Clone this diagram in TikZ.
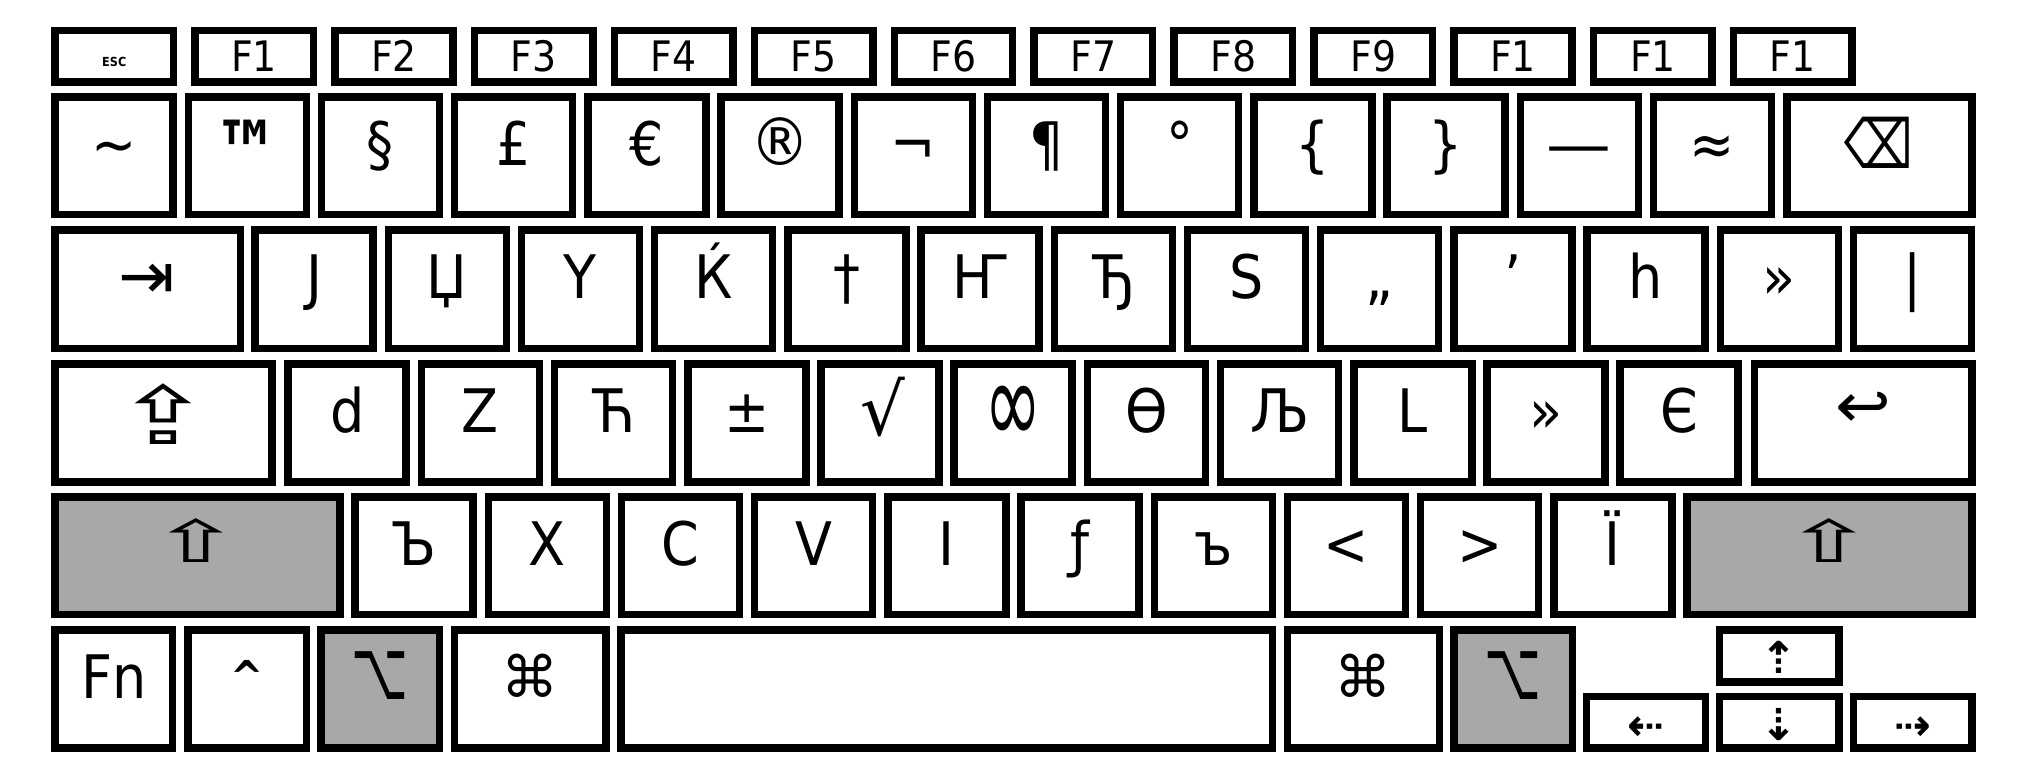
\documentclass[tikz,border=0pt]{standalone}
\usepackage{fontspec}
\usepackage{graphicx}
\setmainfont{DejaVu Sans Condensed}
\newfontfamily\symf{DejaVu Sans}
\definecolor{keygray}{RGB}{168,168,168}
\tikzset{
  keybox/.style={draw=black, fill=white, line width=7.5pt, rectangle, inner sep=0pt, outer sep=0pt},
  graykey/.style={keybox, fill=keygray},
  glyph/.style={inner sep=0pt, outer sep=0pt, anchor=base, font=\fontsize{60}{60}\selectfont},
  cglyph/.style={inner sep=0pt, outer sep=0pt, anchor=center, font=\fontsize{60}{60}\selectfont},
  fglyph/.style={glyph, font=\fontsize{42}{42}\selectfont},
  escglyph/.style={inner sep=0pt, anchor=center, font=\fontsize{12.5}{12.5}\selectfont\bfseries},
  icon/.style={inner sep=0pt, outer sep=0pt, anchor=center, font=\symf\fontsize{52}{52}\selectfont},
  arrowglyph/.style={icon, font=\symf\bfseries\fontsize{44}{44}\selectfont},
}
% name, x1, y1, x2, y2 (outer edges), style
\newcommand\keyat[6]{%
  \node[#6, minimum width={#4-#2-7.5}, minimum height={#5-#3-7.5}] (#1) at ({(#2+#4)/2},{(#3+#5)/2}) {};}
\begin{document}
\begin{tikzpicture}[x=1pt,y=-1pt]
\useasboundingbox (0,0) rectangle (2022,764);
% ---------- function row
\keyat{esc}{51.3}{26.7}{177.2}{85.7}{keybox}
\node[escglyph] (esc-t) at ([yshift=-6pt]esc.center) {ESC};
\foreach \t [count=\i from 1] in {F1,F2,F3,F4,F5,F6,F7,F8,F9,F1,F1,F1} {
  \pgfmathsetmacro\xa{51.3+139.875*\i}
  \pgfmathsetmacro\xb{\xa+125.9}
  \keyat{f\i}{\xa}{26.7}{\xb}{85.7}{keybox}
  \node[fglyph] (f\i-t) at ([yshift=-41.25pt]f\i.north) {\t};
}
% ---------- number row
\foreach \t [count=\i from 0] in {\textasciitilde,{},§,£,€,\scalebox{1.1}{®},¬,¶,°,\{,\},\scalebox{1.2}[1]{—},≈} {
  \pgfmathsetmacro\xa{51.3+133.2*\i}
  \pgfmathsetmacro\xb{\xa+125.5}
  \keyat{a\i}{\xa}{93.3}{\xb}{218.3}{keybox}
  \node[glyph] (a\i-t) at ([yshift=-68.25pt]a\i.north) {\t};
}
\node[cglyph] (tm-t) at (246.5,151.5) {\bfseries\scalebox{1.2}[1.45]{™}};
\keyat{bksp}{1783.4}{93.3}{1975.5}{218.3}{keybox}
\node[icon] (bksp-t) at (1879,143) {\scalebox{0.93}[1.3]{⌫}};
% ---------- tab row
\keyat{tab}{51.3}{226}{244.2}{352.3}{keybox}
\node[icon] (tab-t) at (146.5,281) {\scalebox{1.3}[1.25]{⇥}};
\foreach \t [count=\i from 0] in {Ј,Џ,Ү,Ќ,†,Ҥ,Ђ,Ѕ,„,’,һ,»,|} {
  \pgfmathsetmacro\xa{251.3+133.2*\i}
  \pgfmathsetmacro\xb{\xa+125.5}
  \keyat{b\i}{\xa}{226}{\xb}{352.3}{keybox}
  \node[glyph] (b\i-t) at ([yshift=-68.25pt]b\i.north) {\t};
}
% ---------- caps row
\keyat{caps}{51.3}{360}{275.9}{485.7}{keybox}
\node[icon] (caps-t) at (163,414.5) {\scalebox{2.2}[1.55]{⇪}};
\foreach \t [count=\i from 0] in {d,Z,Ћ,±,{},{},Ѳ,Љ,L,»,Є} {
  \pgfmathsetmacro\xa{284.4+133.2*\i}
  \pgfmathsetmacro\xb{\xa+125.5}
  \keyat{c\i}{\xa}{360}{\xb}{485.7}{keybox}
  \node[glyph] (c\i-t) at ([yshift=-68.25pt]c\i.north) {\t};
}
\node[cglyph] (sqrt-t) at (883,407.5) {\scalebox{1.3}[1.2]{√}};
\node[cglyph] (inf-t) at (1013,415) {\scalebox{1.28}[2.0]{∞}};
\keyat{enter}{1750.5}{360}{1975.5}{485.7}{keybox}
\node[icon] (enter-t) at (1863,409.5) {\scalebox{1.28}[1.2]{↩}};
% ---------- shift row
\keyat{lshift}{51.3}{493.3}{343.75}{618.3}{graykey}
\node[icon] (lshift-t) at (196.5,541) {\scalebox{2.1}[1.12]{⇧}};
\foreach \t [count=\i from 0] in {Ъ,X,C,V,I,ƒ,ъ,<,>,Ї} {
  \pgfmathsetmacro\xa{351.3+133.2*\i}
  \pgfmathsetmacro\xb{\xa+125.5}
  \keyat{d\i}{\xa}{493.3}{\xb}{618.3}{keybox}
  \node[glyph] (d\i-t) at ([yshift=-68.25pt]d\i.north) {\t};
}
\keyat{rshift}{1683}{493.3}{1975.5}{618.3}{graykey}
\node[icon] (rshift-t) at (1829,541) {\scalebox{2.1}[1.12]{⇧}};
% ---------- bottom row
\keyat{fn}{51.3}{626}{176.3}{751.7}{keybox}
\node[glyph] (fn-t) at ([yshift=-68.25pt]fn.north) {Fn};
\keyat{ctrl}{184.4}{626}{310.3}{751.7}{keybox}
\node[inner sep=0pt, anchor=center, font=\fontsize{44}{44}\selectfont\bfseries] (ctrl-t) at (247.3,676) {\textasciicircum};
\keyat{lalt}{317.4}{626}{443.3}{751.7}{graykey}
\node[icon] (lalt-t) at (380.4,675.5) {\scalebox{0.95}[1.6]{⌥}};
\keyat{lcmd}{450.9}{626}{609.8}{751.7}{keybox}
\node[icon] (lcmd-t) at (530.3,675.5) {\scalebox{1.1}{⌘}};
\keyat{space}{617.4}{626}{1276}{751.7}{keybox}
\keyat{rcmd}{1283.6}{626}{1443.2}{751.7}{keybox}
\node[icon] (rcmd-t) at (1363.4,675.5) {\scalebox{1.1}{⌘}};
\keyat{ralt}{1450}{626}{1576}{751.7}{graykey}
\node[icon] (ralt-t) at (1513,675.5) {\scalebox{0.95}[1.6]{⌥}};
% arrows
\keyat{up}{1715.8}{626}{1842.5}{685.7}{keybox}
\node[arrowglyph] (up-t) at (1779,657) {⇡};
\keyat{left}{1582.9}{692.7}{1709}{751.7}{keybox}
\node[arrowglyph] (left-t) at (1646,728.5) {⇠};
\keyat{down}{1715.8}{692.7}{1842.5}{751.7}{keybox}
\node[arrowglyph] (down-t) at (1779,724.5) {⇣};
\keyat{right}{1849.7}{692.7}{1975.5}{751.7}{keybox}
\node[arrowglyph] (right-t) at (1913,728.5) {⇢};
\end{tikzpicture}
\end{document}
